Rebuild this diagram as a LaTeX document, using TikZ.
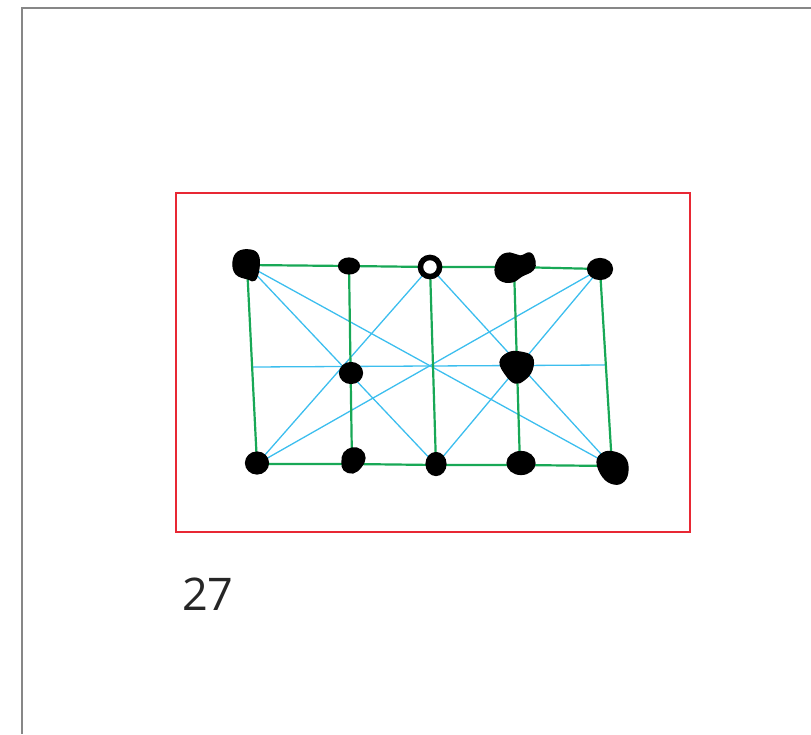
\documentclass[tikz,border=0pt]{standalone}
\usepackage{fontspec}
\setmainfont{Open Sans}
\definecolor{gridgreen}{RGB}{24,168,86}
\definecolor{diagblue}{RGB}{60,190,238}
\definecolor{framered}{RGB}{232,40,52}
\definecolor{framegray}{RGB}{135,135,135}
\definecolor{textgray}{RGB}{38,38,38}
\tikzset{
  greenline/.style={draw=gridgreen, line width=2.2pt},
  blueline/.style={draw=diagblue, line width=1.3pt},
  blob/.style={fill=black, draw=black, line width=1.2pt},
}
\begin{document}
\begin{tikzpicture}[x=1pt,y=-1pt]
\useasboundingbox (0,0) rectangle (811,734);
% page border
\coordinate (pgTop) at (811,8);
\coordinate (pgCorner) at (22,8);
\coordinate (pgBottom) at (22,734);
\draw[framegray, line width=1.5pt] (pgTop) -- (pgCorner) -- (pgBottom);
% red frame
\coordinate (frA) at (176,193);
\coordinate (frB) at (690,532);
\draw[framered, line width=1.5pt] (frA) rectangle (frB);
% grid points
\coordinate (t1) at (247,265);
\coordinate (t2) at (349,266);
\coordinate (t3) at (430,267);
\coordinate (t4) at (514,267);
\coordinate (t5) at (600,269);
\coordinate (m1) at (252,367);
\coordinate (m5) at (606,365);
\coordinate (b1) at (257,464);
\coordinate (b2) at (352,464);
\coordinate (b3) at (436,465);
\coordinate (b4) at (520,465);
\coordinate (b5) at (612,466);
% blue lines
\draw[blueline] (m1) -- (m5);
\draw[blueline] (t1) -- (b5);
\draw[blueline] (b1) -- (t5);
\draw[blueline] (t1) -- (b3);
\draw[blueline] (b1) -- (t3);
\draw[blueline] (t3) -- (b5);
\draw[blueline] (t5) -- (b3);
% green lines
\draw[greenline] (t1) -- (t2) -- (t3) -- (t4) -- (t5);
\draw[greenline] (b1) -- (b2) -- (b3) -- (b4) -- (b5);
\draw[greenline] (t1) -- (b1);
\draw[greenline] (t2) -- (b2);
\draw[greenline] (t3) -- (b3);
\draw[greenline] (t4) -- (b4);
\draw[greenline] (t5) -- (b5);
% blobs
\filldraw[blob] plot[smooth cycle, tension=0.7] coordinates {(233,262) (238,252) (250,250) (258,255) (259,268) (255,280) (248,279) (236,274)};
\filldraw[blob] (349,266) ellipse [x radius=10.5, y radius=8];
\draw[black, line width=5.5pt, fill=white] (430,267) circle [radius=9.6];
\filldraw[blob] plot[smooth cycle, tension=0.7] coordinates {(495,270) (500,257) (510,253) (520,256) (530,253) (535,261) (533,270) (522,276) (512,282) (500,280)};
\filldraw[blob] (600,269) ellipse [x radius=12.5, y radius=10.5];
\filldraw[blob] (351,373) ellipse [x radius=11.5, y radius=10.5];
\filldraw[blob] plot[smooth cycle, tension=0.7] coordinates {(500,362) (508,353) (520,352) (532,357) (532,370) (524,380) (515,383) (506,375)};
\filldraw[blob] (257,463) ellipse [x radius=11.5, y radius=11];
\filldraw[blob] plot[smooth cycle, tension=0.7] coordinates {(342,462) (344,453) (352,448) (361,450) (365,458) (361,467) (353,473) (344,470)};
\filldraw[blob] (436,464) ellipse [x radius=10, y radius=11.5];
\filldraw[blob] (521,463) ellipse [x radius=14, y radius=11.5];
\filldraw[blob] plot[smooth cycle, tension=0.7] coordinates {(597,462) (603,453) (614,452) (625,458) (628,470) (624,481) (614,484) (603,477)};
% label
\node[anchor=base west, inner sep=0pt, text=textgray, font=\fontsize{45}{50}\selectfont] (lbl) at (182,610) {27};
\end{tikzpicture}
\end{document}
